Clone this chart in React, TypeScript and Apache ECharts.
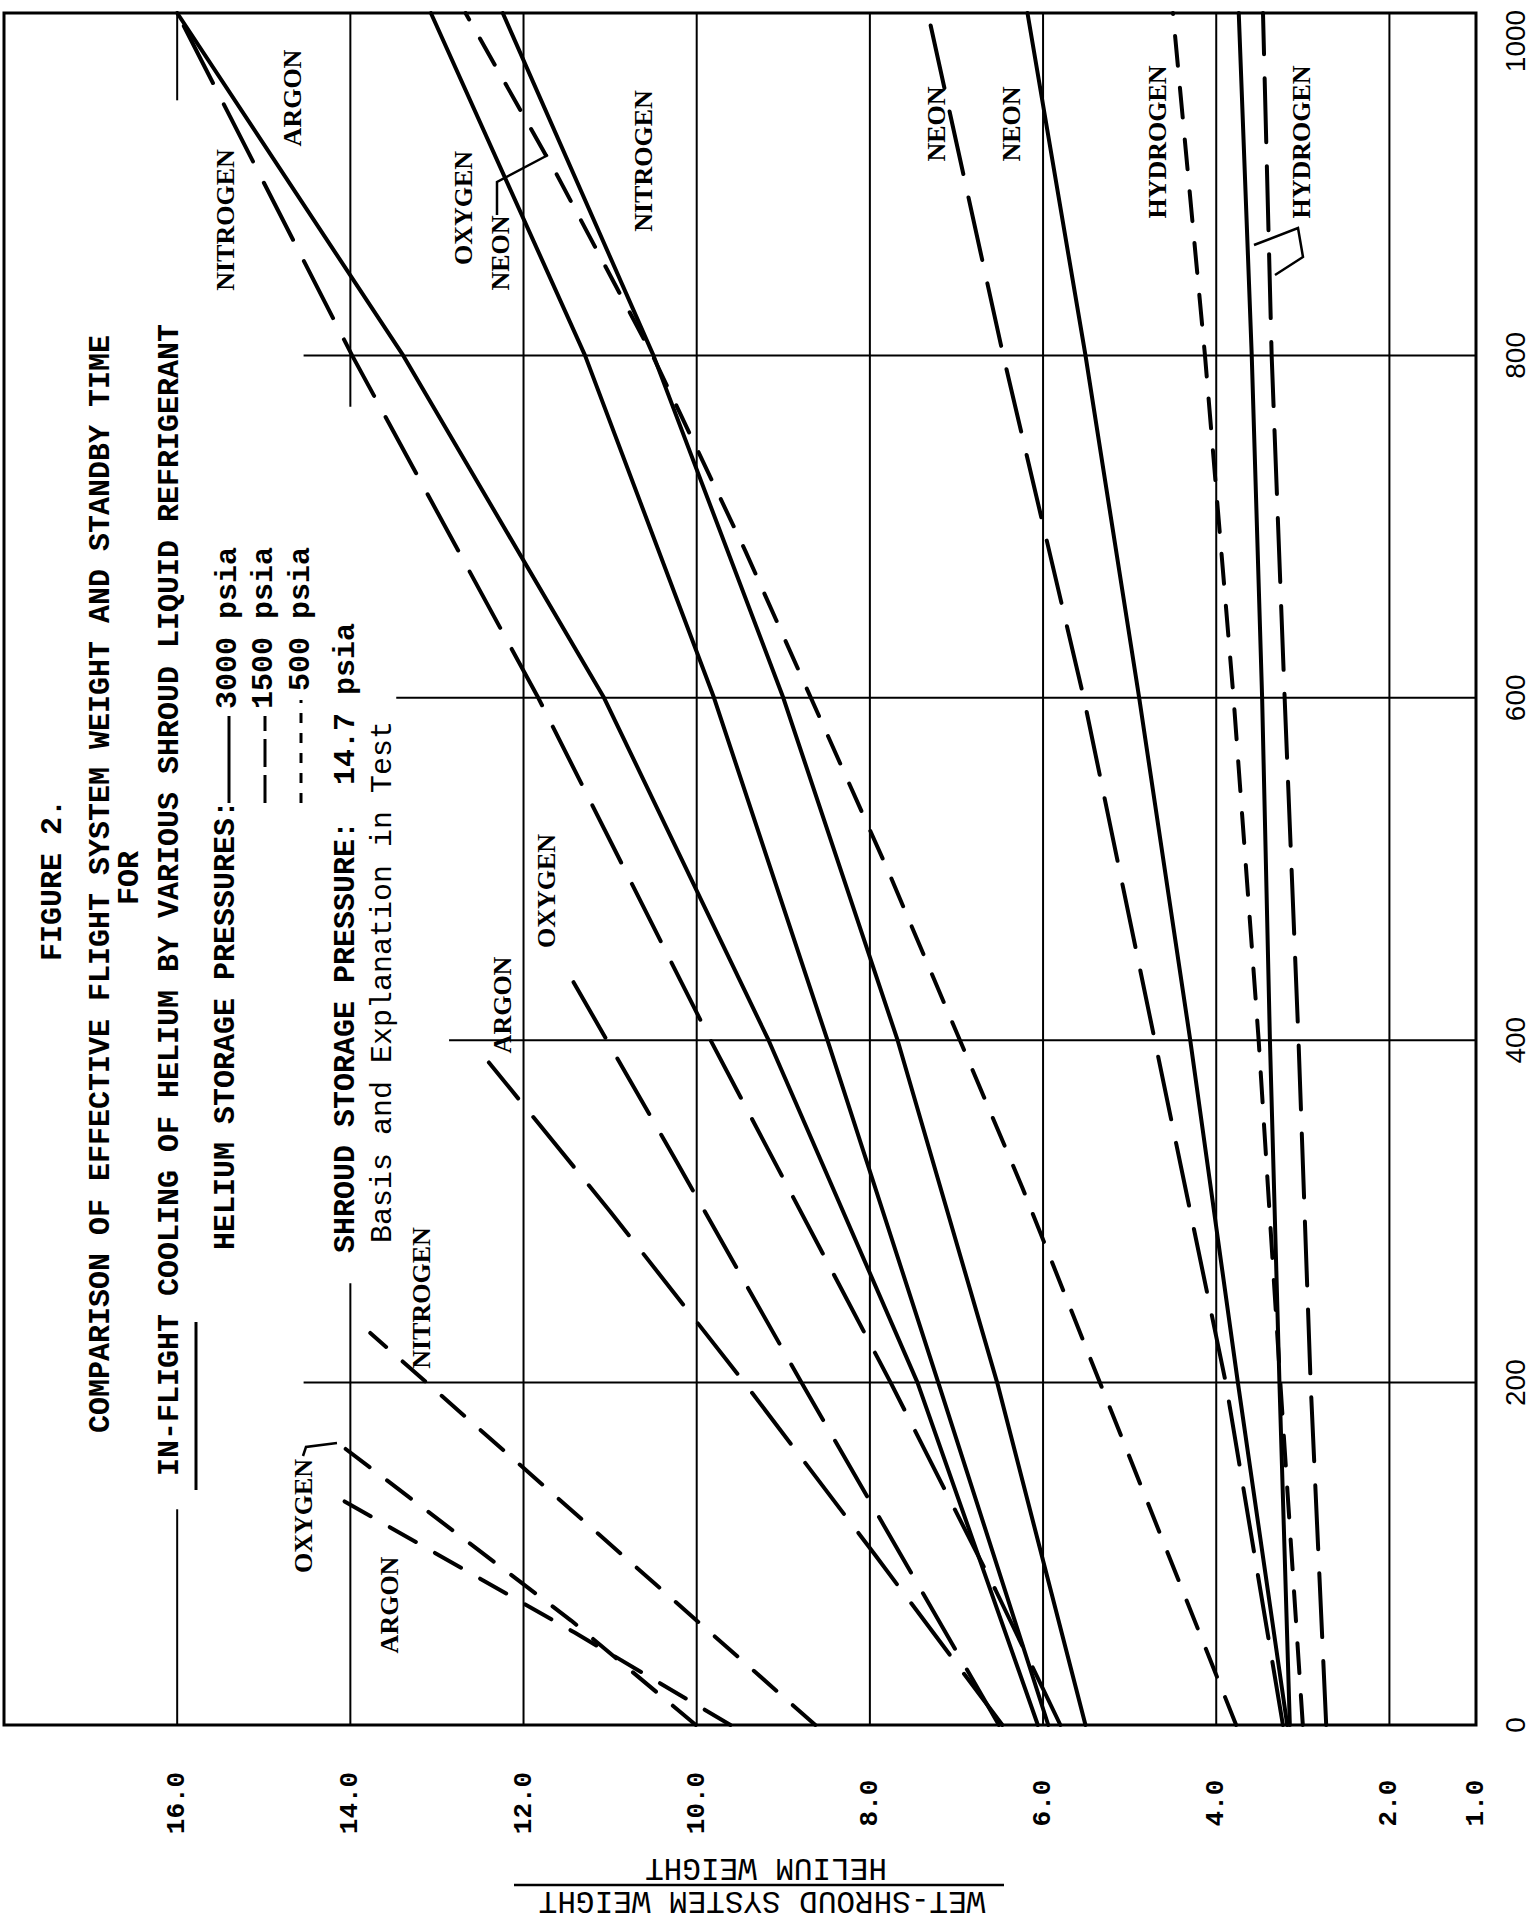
import React, { useEffect, useRef } from "react";
import * as echarts from "echarts";

// ---------- axes ----------
const timeTicks = [0, 200, 400, 600, 800, 1000];
const ratioTicks = [16, 14, 12, 10, 8, 6, 4, 2, 1];
const ratioGridValues = [16, 14, 12, 10, 8, 6, 4, 2];
const timeGridValues = [200, 400, 600, 800];

// partial vertical grid lines (time spans), others run full height
const ratioGridSpans: Record<number, number[][]> = {
  16: [[0, 126], [949, 1000]],
  14: [[0, 258], [770, 1000]],
};
// horizontal grid lines start at these ratio values (and run to 1.0)
const timeGridStart: Record<number, number> = { 200: 14.54, 400: 12.86, 600: 13.47, 800: 14.54 };

// ---------- data: [standby time, weight ratio] ----------
const argon3000 = [[0, 6.06], [200, 7.45], [400, 9.17], [600, 11.07], [800, 13.39], [1000, 16.0]];
const argon1500 = [[0, 6.47], [100, 7.95], [200, 9.45], [300, 11.0], [387, 12.4]];
const argon500 = [[0, 9.61], [54, 11.41], [131, 14.08]];

const nitrogen3000 = [[0, 5.51], [200, 6.53], [400, 7.68], [600, 9.0], [800, 10.5], [1000, 12.24]];
const nitrogen1500 = [[0, 5.8], [79, 6.55], [200, 7.76], [400, 9.84], [600, 11.83], [800, 13.98], [1000, 16.0]];
const nitrogen500 = [[0, 8.63], [229, 13.77]];

const oxygen3000 = [[0, 5.94], [200, 7.21], [400, 8.49], [600, 9.8], [800, 11.29], [1000, 13.07]];
const oxygen1500 = [[0, 6.51], [200, 8.79], [328, 10.22], [446, 11.56]];
const oxygen500 = [[0, 10.01], [61, 11.45], [163, 14.1]];

const neon3000 = [[0, 3.18], [200, 3.75], [400, 4.3], [600, 4.89], [800, 5.51], [1000, 6.18]];
const neon1500 = [[0, 3.23], [200, 3.89], [400, 4.71], [600, 5.53], [800, 6.46], [1000, 7.33]];
const neon500 = [[0, 3.77], [314, 6.24], [499, 7.79], [686, 9.44], [800, 10.51], [906, 11.62], [1000, 12.67]];

const hydrogen3000 = [[0, 3.15], [200, 3.27], [400, 3.38], [600, 3.47], [800, 3.59], [1000, 3.74]];
const hydrogen1500 = [[0, 2.73], [200, 2.91], [400, 3.05], [600, 3.21], [800, 3.36], [1000, 3.46]];
const hydrogen500 = [[0, 3.0], [200, 3.26], [400, 3.51], [600, 3.8], [800, 4.13], [1000, 4.5]];

const DASH_1500 = [64, 24];
const DASH_500 = [30, 22];

const gasLines: { name: string; data: number[][]; dash: any }[] = [
  { name: "Argon 3000 psia", data: argon3000, dash: "solid" },
  { name: "Argon 1500 psia", data: argon1500, dash: DASH_1500 },
  { name: "Argon 500 psia", data: argon500, dash: DASH_500 },
  { name: "Nitrogen 3000 psia", data: nitrogen3000, dash: "solid" },
  { name: "Nitrogen 1500 psia", data: nitrogen1500, dash: DASH_1500 },
  { name: "Nitrogen 500 psia", data: nitrogen500, dash: DASH_500 },
  { name: "Oxygen 3000 psia", data: oxygen3000, dash: "solid" },
  { name: "Oxygen 1500 psia", data: oxygen1500, dash: DASH_1500 },
  { name: "Oxygen 500 psia", data: oxygen500, dash: DASH_500 },
  { name: "Neon 3000 psia", data: neon3000, dash: "solid" },
  { name: "Neon 1500 psia", data: neon1500, dash: DASH_1500 },
  { name: "Neon 500 psia", data: neon500, dash: DASH_500 },
  { name: "Hydrogen 3000 psia", data: hydrogen3000, dash: "solid" },
  { name: "Hydrogen 1500 psia", data: hydrogen1500, dash: DASH_1500 },
  { name: "Hydrogen 500 psia", data: hydrogen500, dash: DASH_500 },
];

const FONT_MONO = '"Liberation Mono", "DejaVu Sans Mono", monospace';
const FONT_SERIF = '"Liberation Serif", "DejaVu Serif", serif';
const FONT_SANS = '"Liberation Sans", "DejaVu Sans", sans-serif';

function vText(text: string, x: number, y: number, o: any = {}) {
  return {
    type: "text",
    x,
    y,
    rotation: o.rotation ?? Math.PI / 2,
    z: 100,
    silent: true,
    style: {
      text,
      fill: "#000",
      fontFamily: o.fontFamily ?? FONT_MONO,
      fontSize: o.fontSize ?? 30,
      fontWeight: o.fontWeight ?? "bold",
      align: o.align ?? "center",
      verticalAlign: "middle",
    },
  };
}

function gasLabel(text: string, x: number, y: number) {
  return vText(text, x, y, { fontFamily: FONT_SERIF, fontSize: 26, fontWeight: "bold" });
}

function pline(points: number[][], width = 2.5, dash: any = null) {
  return {
    type: "polyline",
    z: 100,
    silent: true,
    shape: { points },
    style: { stroke: "#000", lineWidth: width, fill: null, lineDash: dash },
  };
}

function buildOption() {
  const series: any[] = [];
  ratioGridValues.forEach((r) => {
    const spans = ratioGridSpans[r] || [[0, 1000]];
    spans.forEach(([a, b]) =>
      series.push({
        type: "line",
        data: [[r, a], [r, b]],
        symbol: "none",
        silent: true,
        z: 1,
        lineStyle: { color: "#000", width: 2 },
      })
    );
  });
  timeGridValues.forEach((t) =>
    series.push({
      type: "line",
      data: [[timeGridStart[t], t], [1, t]],
      symbol: "none",
      silent: true,
      z: 1,
      lineStyle: { color: "#000", width: 2 },
    })
  );
  gasLines.forEach((g) =>
    series.push({
      type: "line",
      name: g.name,
      data: g.data.map(([t, r]) => [r, t]),
      symbol: "none",
      silent: true,
      z: 3,
      lineStyle: { color: "#000", width: 4, type: g.dash, cap: "round" },
    })
  );

  const graphic: any[] = [
    // title block
    vText("FIGURE 2.", 53, 880),
    vText("COMPARISON OF EFFECTIVE FLIGHT SYSTEM WEIGHT AND STANDBY TIME", 101, 884),
    vText("FOR", 130, 878),
    vText("IN-FLIGHT COOLING OF HELIUM BY VARIOUS SHROUD LIQUID REFRIGERANT", 170, 900),
    pline([[196, 1490], [196, 1322]], 3),
    vText("HELIUM STORAGE PRESSURES:", 226, 1250, { align: "left" }),
    pline([[229, 803], [229, 716]], 3),
    vText("3000 psia", 228, 547, { align: "right" }),
    pline([[265, 803], [265, 716]], 3, [28, 8]),
    vText("1500 psia", 264, 547, { align: "right" }),
    pline([[301, 803], [301, 700]], 3, [10, 10]),
    vText("500 psia", 301, 547, { align: "right" }),
    vText("SHROUD STORAGE PRESSURE:  14.7 psia", 346, 1253, { align: "left" }),
    vText("Basis and Explanation in Test", 383, 1243, { align: "left", fontWeight: "normal" }),

    // gas labels
    gasLabel("NITROGEN", 225, 220),
    gasLabel("ARGON", 292, 98),
    gasLabel("OXYGEN", 463, 208),
    gasLabel("NEON", 500, 253),
    gasLabel("NITROGEN", 643, 161),
    gasLabel("NEON", 936, 124),
    gasLabel("NEON", 1011, 124),
    gasLabel("HYDROGEN", 1157, 142),
    gasLabel("HYDROGEN", 1301, 142),
    gasLabel("OXYGEN", 546, 891),
    gasLabel("ARGON", 502, 1005),
    gasLabel("NITROGEN", 421, 1298),
    gasLabel("OXYGEN", 303, 1516),
    gasLabel("ARGON", 389, 1605),

    // leader lines
    pline([[303, 1456], [306, 1447], [337, 1443]], 2.5),
    pline([[497, 215], [497, 182], [548, 155]], 2.5),
    pline([[1254, 245], [1298, 228], [1303, 257], [1275, 275]], 2.5),

    // ratio axis title (upside down)
    vText("HELIUM WEIGHT", 766, 1867, { rotation: Math.PI, fontSize: 31, fontWeight: "normal" }),
    pline([[514, 1885], [1004, 1885]], 2.5),
    vText("WET-SHROUD SYSTEM WEIGHT", 762, 1900, { rotation: Math.PI, fontSize: 31, fontWeight: "normal" }),
  ];

  return {
    animation: false,
    backgroundColor: "#fff",
    grid: {
      left: 4,
      top: 13,
      width: 1472,
      height: 1712,
      show: true,
      borderColor: "#000",
      borderWidth: 3,
      backgroundColor: "transparent",
    },
    xAxis: {
      type: "value",
      min: 1,
      max: 18,
      inverse: true,
      position: "bottom",
      axisLine: { show: false },
      axisTick: { show: false },
      splitLine: { show: false },
      axisLabel: {
        customValues: ratioTicks,
        rotate: 90,
        margin: 78,
        align: "center",
        verticalAlign: "middle",
        color: "#000",
        fontFamily: FONT_MONO,
        fontSize: 26,
        fontWeight: "bold",
        formatter: (v: number) => v.toFixed(1),
      },
    },
    yAxis: {
      type: "value",
      min: timeTicks[0],
      max: timeTicks[timeTicks.length - 1],
      interval: 200,
      position: "right",
      axisLine: { show: false },
      axisTick: { show: false },
      splitLine: { show: false },
      axisLabel: {
        rotate: 90,
        margin: 39,
        align: "center",
        verticalAlign: "middle",
        color: "#000",
        fontFamily: FONT_SANS,
        fontSize: 28,
        formatter: (v: number) => (v === 1000 ? "{top|1000}" : "{n|" + v + "}"),
        rich: {
          n: { fontFamily: FONT_SANS, fontSize: 28, color: "#000" },
          top: { fontFamily: FONT_SANS, fontSize: 28, color: "#000", padding: [0, 56, 0, 0] },
        },
      },
    },
    series,
    graphic,
  };
}

export default function App() {
  const ref = useRef<HTMLDivElement>(null);
  useEffect(() => {
    document.body.style.margin = "0";
    const chart = echarts.init(ref.current!, null, { renderer: "svg" });
    chart.setOption(buildOption() as any);
    return () => chart.dispose();
  }, []);
  return (
    <div
      ref={ref}
      style={{ position: "absolute", left: 0, top: 0, width: 1537, height: 1920, background: "#fff" }}
    />
  );
}
